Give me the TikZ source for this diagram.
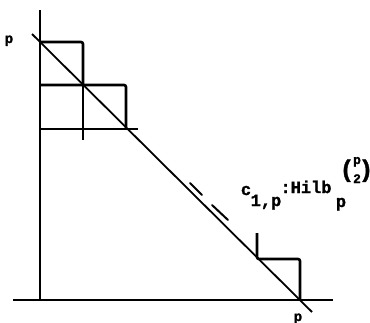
\documentclass[tikz,border=0pt]{standalone}
\usepackage{fontspec}
\newfontfamily\tw{Liberation Mono}[BoldFeatures={FakeBold=1.5}]
\begin{document}
\begin{tikzpicture}[x=1pt,y=-1pt,
  ax/.style={line width=1.8pt},
  stp/.style={line width=2.6pt, rounded corners=2pt},
  dsh/.style={line width=2pt, line cap=round},
  lbl/.style={font=\tw\bfseries\fontsize{17}{17}\selectfont, inner sep=0pt, anchor=base},
  blbl/.style={font=\tw\bfseries\fontsize{14}{14}\selectfont, inner sep=0pt, anchor=base},
  bilbl/.style={font=\tw\bfseries\fontsize{13}{13}\selectfont, inner sep=0pt, anchor=base},
  par/.style={font=\tw\bfseries\fontsize{24}{24}\selectfont, inner sep=0pt, anchor=base}]
\useasboundingbox (0,0) rectangle (370,322);
% axes
\coordinate (ytop) at (40,10);
\coordinate (ybot) at (40,300);
\coordinate (xl) at (13,300);
\coordinate (xr) at (333,300);
\coordinate (d1) at (32,34);
\coordinate (d2) at (312,312);
\draw[ax] (ytop) -- (ybot);
\draw[ax] (xl) -- (xr);
\draw[ax] (d1) -- (d2);
% steps
\draw[stp] (40,42) -- (83,42) -- (83,86);
\draw[ax] (83,86) -- (83,140);
\draw[stp] (40,85) -- (126,85) -- (126,128);
\draw[line width=2.2pt] (40,129) -- (138,129);
\draw[stp] (257,233) -- (257,259) -- (300,259) -- (300,300);
% dashed parallel
\draw[dsh] (190,183) -- (202,195);
\draw[dsh] (212,205) -- (228,220);
% labels
\node[blbl] (pl) at (9,43) {p};
\node[blbl] (pb) at (298,321) {p};
\node[lbl] (c) at (246,195) {c};
\node[lbl] (c1) at (266,206) {1,p};
\node[lbl] (hilb) at (306,193) {:Hilb};
\node[lbl] (hp) at (341,207) {p};
\node[bilbl] (bp) at (357,164) {p};
\node[bilbl] (b2) at (357,183) {2};
\node[par] (lp) at (347,177) {(};
\node[par] (rp) at (366,177) {)};
\end{tikzpicture}
\end{document}
